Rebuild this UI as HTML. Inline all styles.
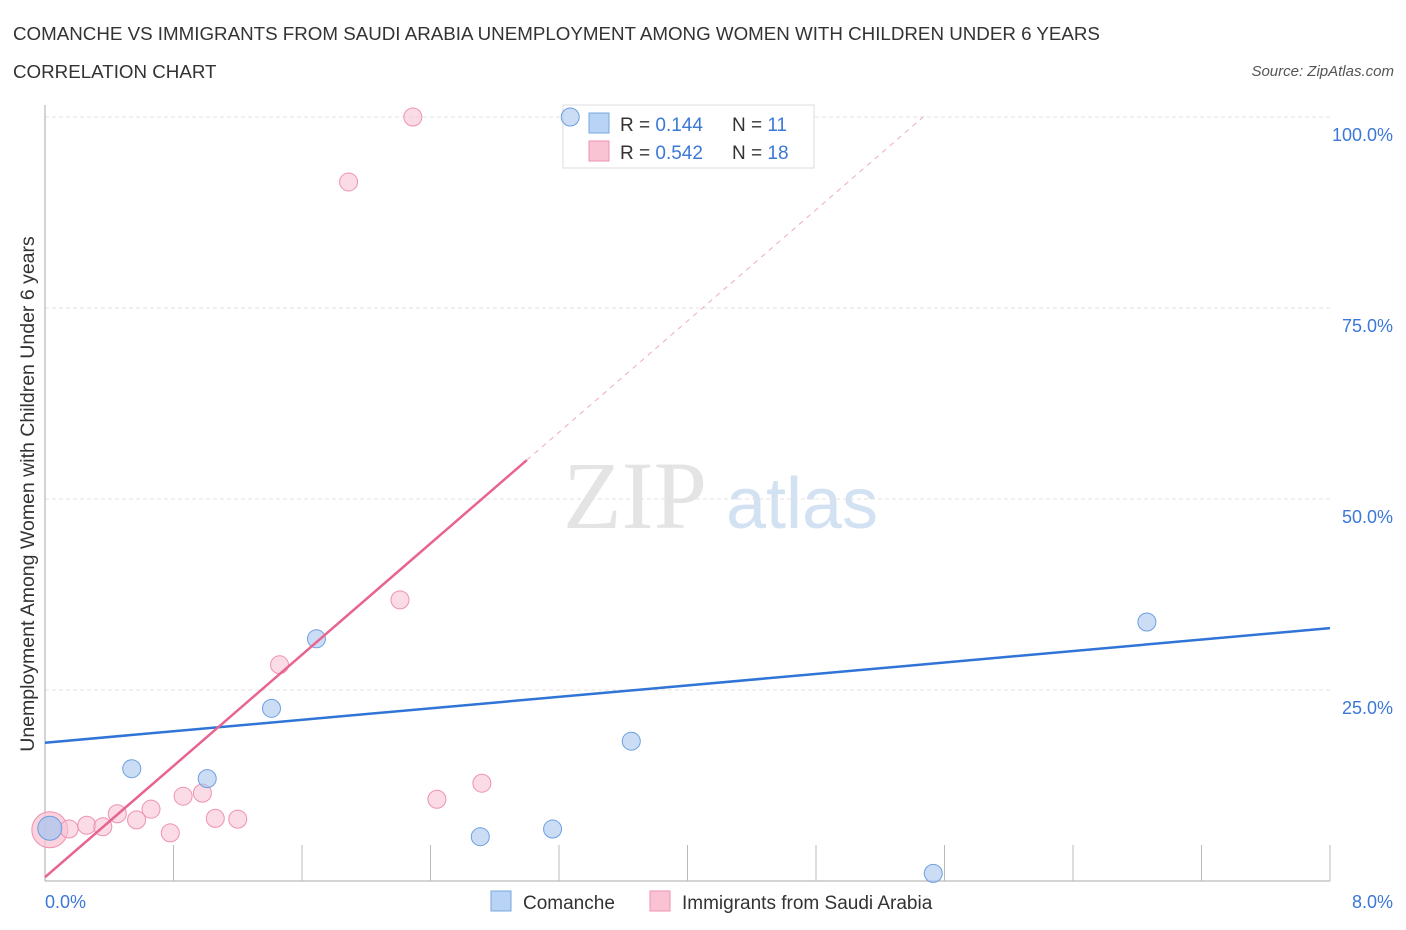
<!DOCTYPE html>
<html><head><meta charset="utf-8"><style>
body{margin:0;background:#fff;font-family:"Liberation Sans",sans-serif;}
svg{display:block}
</style></head><body>
<svg id="chart" width="1406" height="930" xmlns="http://www.w3.org/2000/svg">
<text x="13" y="40" font-size="18.75" fill="#333">COMANCHE VS IMMIGRANTS FROM SAUDI ARABIA UNEMPLOYMENT AMONG WOMEN WITH CHILDREN UNDER 6 YEARS</text>
<text x="13" y="78" font-size="18.75" fill="#333">CORRELATION CHART</text>
<text x="1394" y="76" font-size="15" fill="#555" font-style="italic" text-anchor="end">Source: ZipAtlas.com</text>
<text x="635" y="528" font-size="96" fill="#e4e4e4" font-family="Liberation Serif,serif" text-anchor="middle">ZIP</text>
<text x="802" y="528" font-size="72" fill="#d3e2f3" text-anchor="middle">atlas</text>
<text transform="translate(34,494) rotate(-90)" font-size="19.5" fill="#333" text-anchor="middle">Unemployment Among Women with Children Under 6 years</text>
<g id="grid"></g>
<g>
<rect x="563" y="105" width="251" height="63" fill="#fff" stroke="#ddd"/>
<rect x="589" y="113" width="20" height="20" fill="#b8d3f5" stroke="#7aa7e0"/>
<rect x="589" y="141" width="20" height="20" fill="#f9c3d3" stroke="#ee92b0"/>
<text x="620" y="131" font-size="19" fill="#333">R = <tspan fill="#3b78d8">0.144</tspan></text>
<text x="732" y="131" font-size="19" fill="#333">N = <tspan fill="#3b78d8">11</tspan></text>
<text x="620" y="159" font-size="19" fill="#333">R = <tspan fill="#3b78d8">0.542</tspan></text>
<text x="732" y="159" font-size="19" fill="#333">N = <tspan fill="#3b78d8">18</tspan></text>
</g>
<g id="marks"></g>
<g>
<rect x="491" y="891" width="20" height="20" fill="#b8d3f5" stroke="#7aa7e0"/>
<text x="523" y="909" font-size="19" fill="#333">Comanche</text>
<rect x="650" y="891" width="20" height="20" fill="#f9c3d3" stroke="#ee92b0"/>
<text x="682" y="909" font-size="19" fill="#333">Immigrants from Saudi Arabia</text>
</g>
<text x="45" y="908" font-size="18" fill="#3b78d8">0.0%</text>
<text x="1393" y="908" font-size="18" fill="#3b78d8" text-anchor="end">8.0%</text>
</svg>
<script>
const yTicks=[100,75,50,25];
const yTickLabels=["100.0%","75.0%","50.0%","25.0%"];
const comancheX=[0.03,0.54,1.01,1.41,1.69,2.71,3.16,3.65,5.53,6.86,3.27];
const comancheY=[6.9,14.7,13.4,22.6,31.7,5.8,6.8,18.3,1.0,33.9,100];
const comancheR=[12,9,9,9,9,9,9,9,9,9,9];
const saudiX=[0.03,0.15,0.26,0.36,0.45,0.57,0.66,0.78,0.86,0.98,1.06,1.20,1.46,1.89,2.21,2.29,2.44,2.72];
const saudiY=[6.7,6.8,7.3,7.1,8.8,8.0,9.4,6.3,11.1,11.5,8.2,8.1,28.3,91.5,36.8,100,10.7,12.8];
const saudiR=[18,9,9,9,9,9,9,9,9,9,9,9,9,9,9,9,9,9];
const comancheTrend=[18.1,33.1];
const saudiTrend=[0.5,18.2];
const NS="http://www.w3.org/2000/svg";
const sx=v=>45+v/8*1285, sy=v=>881-v/100*764;
function mk(t,a,p){const e=document.createElementNS(NS,t);for(const k in a)e.setAttribute(k,a[k]);p.appendChild(e);return e;}
const grid=document.getElementById('grid'),marks=document.getElementById('marks');
yTicks.forEach((t,i)=>{
 const l=mk('line',{x1:45,x2:1330,y1:sy(t),y2:sy(t),stroke:'#e2e2e2','stroke-dasharray':'4,3'},grid);
 
 
 const tx=mk('text',{x:1393,y:sy(t)+24,'font-size':18,fill:'#3b78d8','text-anchor':'end'},grid);
 tx.textContent=yTickLabels[i];
 
 
});
const ax=mk('line',{x1:45,x2:1330,y1:881,y2:881,stroke:'#aaa'},grid);


const ay=mk('line',{x1:45,x2:45,y1:105,y2:881,stroke:'#aaa'},grid);


for(let i=1;i<=10;i++){const t=mk('line',{x1:sx(i*0.8),x2:sx(i*0.8),y1:845,y2:881,stroke:'#bbb'},grid);
 
 }
function pts(X,Y,R,fill,stroke,name){X.forEach((x,i)=>{const c=mk('circle',{cx:sx(x),cy:sy(Y[i]),r:R[i],fill:fill,stroke:stroke,'stroke-width':1,'fill-opacity':R[i]>10?0.75:0.6},marks);
 
 });}
pts(saudiX,saudiY,saudiR,'#f9c3d3','#ee92b0','saudi-point');
pts(comancheX,comancheY,comancheR,'#a9c6ef','#6c9fe0','comanche-point');
const bl=mk('line',{x1:sx(0),y1:sy(comancheTrend[0]),x2:sx(8),y2:sy(comancheTrend[1]),stroke:'#2f74d6','stroke-width':2.5},marks);


const xEnd=3.0,xDash=(100-saudiTrend[0])/saudiTrend[1];
const pl=mk('line',{x1:sx(0),y1:sy(saudiTrend[0]),x2:sx(xEnd),y2:sy(saudiTrend[0]+saudiTrend[1]*xEnd),stroke:'#e8648f','stroke-width':2.5},marks);


const pd=mk('line',{x1:sx(xEnd),y1:sy(saudiTrend[0]+saudiTrend[1]*xEnd),x2:sx(xDash),y2:sy(100),stroke:'#eeaabf','stroke-width':1,'stroke-dasharray':'5,5'},marks);


</script>
</body></html>
